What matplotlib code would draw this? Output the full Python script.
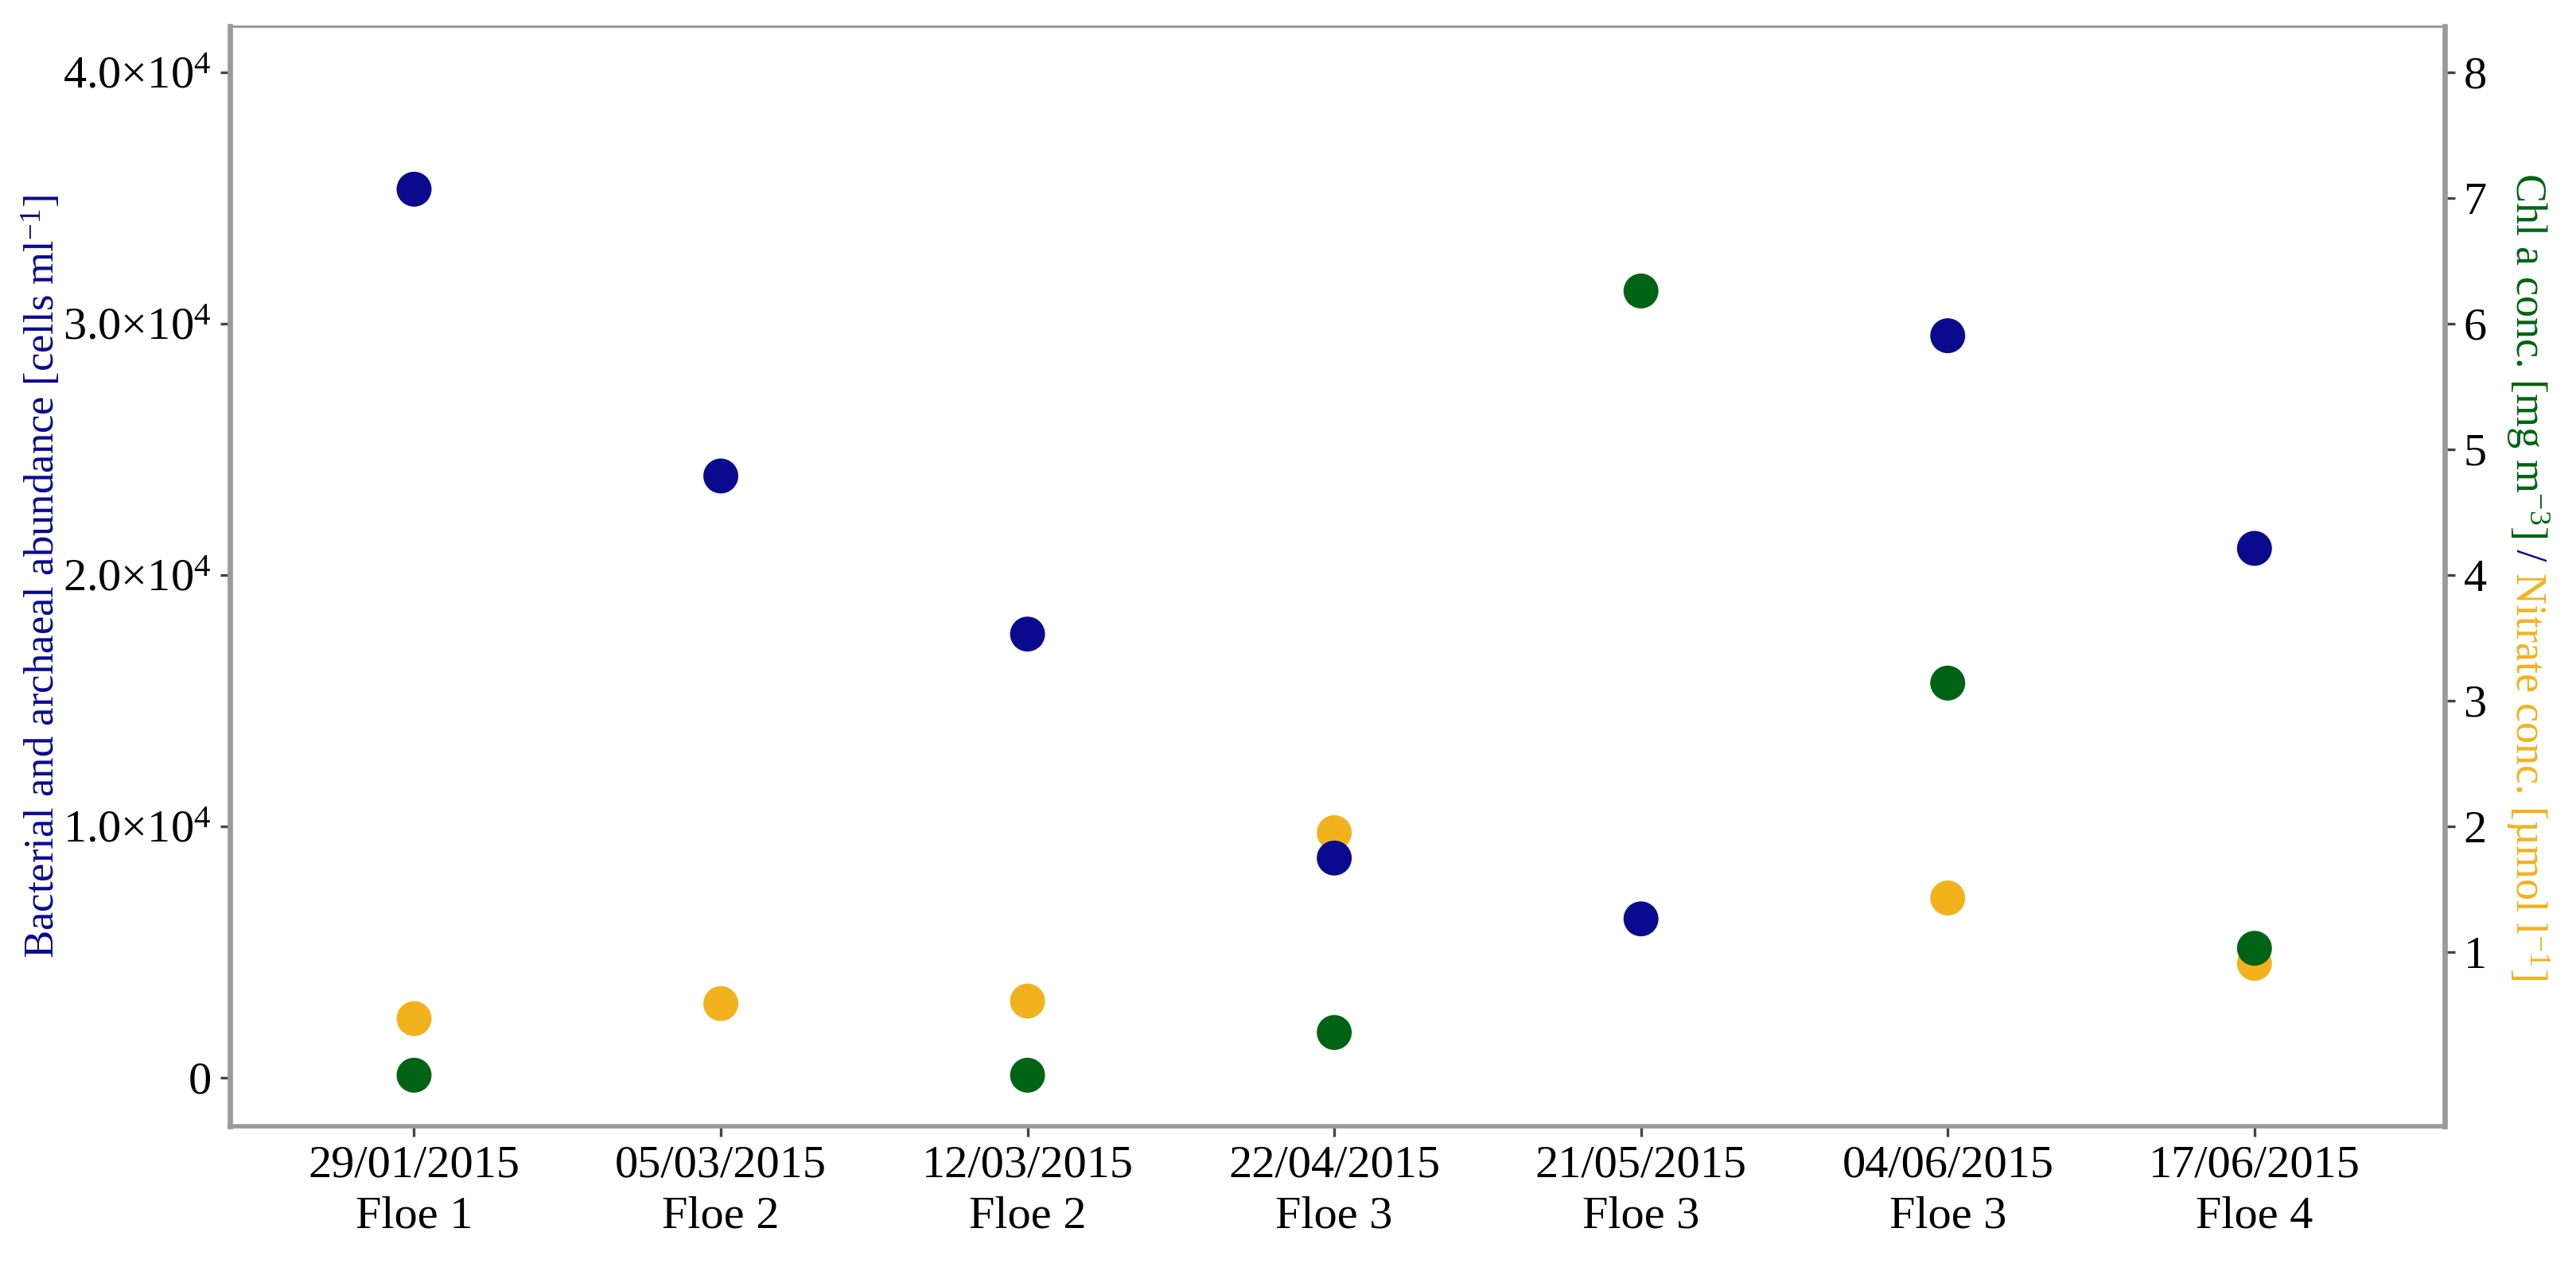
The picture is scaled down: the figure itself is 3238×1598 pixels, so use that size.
import numpy as np
import matplotlib.pyplot as plt
from matplotlib.ticker import FixedLocator

plt.rcParams['font.family'] = 'Liberation Serif'
plt.rcParams['mathtext.fontset'] = 'custom'
plt.rcParams['mathtext.rm'] = 'Liberation Serif'
plt.rcParams['mathtext.it'] = 'Liberation Serif:italic'
plt.rcParams['mathtext.bf'] = 'Liberation Serif:bold'

dates = ['29/01/2015', '05/03/2015', '12/03/2015', '22/04/2015',
         '21/05/2015', '04/06/2015', '17/06/2015']
floes = ['Floe 1', 'Floe 2', 'Floe 2', 'Floe 3', 'Floe 3', 'Floe 3', 'Floe 4']
abundance = [35350, 23940, 17650, 8740, 6320, 29520, 21060]
chl_a = [0.02, np.nan, 0.02, 0.36, 6.26, 3.14, 1.03]
nitrate = [0.47, 0.59, 0.61, 1.95, np.nan, 1.43, 0.91]
left_ticks = [0, 10000, 20000, 30000, 40000]
right_ticks = [1, 2, 3, 4, 5, 6, 7, 8]

navy = '#0a0a8f'
green = '#006414'
orange = '#F2B21E'
spine_col = '#9a9a9a'

fig = plt.figure(figsize=(16.19, 7.99), dpi=200)
ax = fig.add_axes([0.0893, 0.1139, 0.8597, 0.8654])
ax2 = ax.twinx()
ax.set_zorder(ax2.get_zorder() + 1)
ax.patch.set_visible(False)

x = np.arange(len(dates))
ax2.scatter(x, nitrate, s=250, color=orange, edgecolors='none')
ax2.scatter(x, chl_a, s=250, color=green, edgecolors='none')
ax.scatter(x, abundance, s=250, color=navy, edgecolors='none')

ax.set_xlim(-0.6, 6.62)
ax.set_ylim(-1930, 41830)
ax2.set_ylim(-1930 / 5000, 41830 / 5000)

ax.set_xticks(x)
ax.set_xticklabels([f'{d}\n{f}' for d, f in zip(dates, floes)], linespacing=1.3)


def sci_label(v):
    if v == 0:
        return '0'
    exp = int(np.floor(np.log10(v)))
    return rf'{v / 10**exp:.1f}$\times$10$^{{{exp}}}$'


ax.yaxis.set_major_locator(FixedLocator(left_ticks))
ax.set_yticklabels([sci_label(v) for v in left_ticks])
ax2.yaxis.set_major_locator(FixedLocator(right_ticks))
ax2.set_yticklabels([str(v) for v in right_ticks])

ax.tick_params(axis='both', labelsize=21, length=4.5, width=1.2, color='#444444', pad=4)
ax2.tick_params(axis='y', labelsize=21, length=4.5, width=1.2, color='#444444', pad=4)

for a in (ax, ax2):
    for sp in a.spines.values():
        sp.set_color(spine_col)
ax.spines['left'].set_linewidth(2.4)
ax.spines['bottom'].set_linewidth(2.0)
ax.spines['top'].set_linewidth(1.1)
ax.spines['right'].set_visible(False)
ax2.spines['right'].set_linewidth(2.4)
ax2.spines['left'].set_visible(False)
ax2.spines['top'].set_visible(False)
ax2.spines['bottom'].set_visible(False)

ax.text(-0.085, 0.5, 'Bacterial and archaeal abundance [cells ml$^{-1}$]',
        transform=ax.transAxes, rotation=90, ha='center', va='center',
        fontsize=19, color=navy)

t1 = ax2.text(1.0374, 0.5, 'Chl a conc. [mg m$^{-3}$]', transform=ax2.transAxes,
              rotation=-90, ha='center', va='top', fontsize=19.5, color=green)
t2 = ax2.annotate(' / ', xy=(0.5, 0), xycoords=t1, rotation=-90, ha='center',
                  va='top', fontsize=19.5, color=navy)
t3 = ax2.annotate('Nitrate conc. [µmol l$^{-1}$]', xy=(0.5, 0), xycoords=t2,
                  rotation=-90, ha='center', va='top', fontsize=19.5, color=orange)

# centre the three-colour label along the axis
fig.canvas.draw()
r = fig.canvas.get_renderer()
top = t1.get_window_extent(r).y1
bot = t3.get_window_extent(r).y0
ax_bb = ax2.get_window_extent(r)
mid = (ax_bb.y0 + ax_bb.y1) / 2
shift = mid - (top + bot) / 2
t1.set_y(0.5 + shift / ax_bb.height)

fig.savefig('out.png', dpi=200, facecolor='white')
